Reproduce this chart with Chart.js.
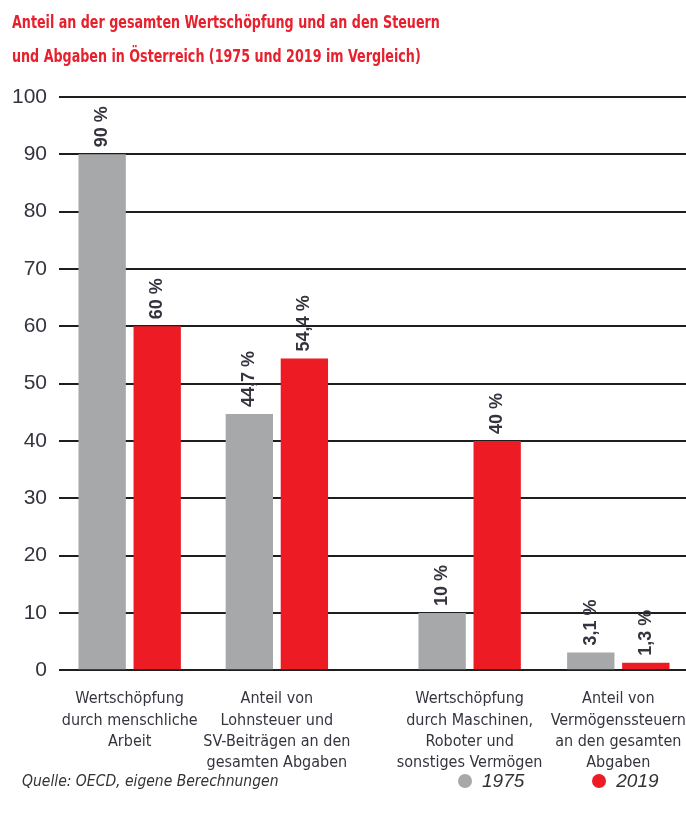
<!DOCTYPE html>
<html>
<head>
<meta charset="utf-8">
<script src="https://cdn.jsdelivr.net/npm/chart.js@4.4.1/dist/chart.umd.min.js"></script>
<style>
  html, body { margin: 0; padding: 0; background: #fff; overflow: hidden; }
  #wrap { position: relative; width: 686px; height: 820px; }
  #title {
    position: absolute; left: 12px; top: 5px; white-space: nowrap;
    font: bold 18px/34px "DejaVu Sans Condensed", sans-serif;
    color: #e8202e;
    transform: scaleX(0.785); transform-origin: left top;
  }
  #source {
    position: absolute; left: 22px; top: 772px;
    font: italic 15.5px "DejaVu Sans Condensed", sans-serif;
    color: #333;
  }
  #legend {
    position: absolute; left: 458px; top: 770px;
    display: flex; gap: 68px;
    font: italic 19px "Liberation Sans", sans-serif; color: #333;
  }
  #legend span { display: inline-flex; align-items: center; }
  #legend i { display: inline-block; width: 14px; height: 14px; border-radius: 50%; margin-right: 10px; }
</style>
</head>
<body>
<div id="wrap">
  <div id="title"></div>
  <canvas id="chart" width="686" height="820"></canvas>
  <div id="source">Quelle: OECD, eigene Berechnungen</div>
  <div id="legend"></div>
</div>
<script>
const titleLines = [
  'Anteil an der gesamten Wertschöpfung und an den Steuern',
  'und Abgaben in Österreich (1975 und 2019 im Vergleich)'
];
const categories = [
  ['Wertschöpfung', 'durch menschliche', 'Arbeit'],
  ['Anteil von', 'Lohnsteuer und', 'SV-Beiträgen an den', 'gesamten Abgaben'],
  ['Wertschöpfung', 'durch Maschinen,', 'Roboter und', 'sonstiges Vermögen'],
  ['Anteil von', 'Vermögenssteuern', 'an den gesamten', 'Abgaben']
];
// groups 2 and 3 sit further apart in the original
const groupPos = [0, 1, 2.31, 3.32];
const seriesNames = ['1975', '2019'];
const values1975 = [90, 44.7, 10, 3.1];
const values2019 = [60, 54.4, 40, 1.3];
const seriesColors = ['#a7a8aa', '#ed1c24'];

const narrow = '"DejaVu Sans Condensed", sans-serif';
const textColor = '#34343f';

document.getElementById('title').innerHTML = titleLines.join('<br>');

const barLabels = {
  id: 'barLabels',
  afterDatasetsDraw(chart) {
    const ctx = chart.ctx;
    ctx.save();
    ctx.font = '600 18px "Liberation Sans", sans-serif';
    ctx.fillStyle = textColor;
    ctx.textAlign = 'left';
    ctx.textBaseline = 'middle';
    chart.data.datasets.forEach((ds, di) => {
      chart.getDatasetMeta(di).data.forEach((bar, i) => {
        const txt = String(ds.data[i].y).replace('.', ',') + ' %';
        ctx.save();
        ctx.translate(bar.x, bar.y - 7);
        ctx.rotate(-Math.PI / 2);
        ctx.fillText(txt, 0, 0);
        ctx.restore();
      });
    });
    ctx.restore();
  }
};

const chart = new Chart(document.getElementById('chart'), {
  type: 'bar',
  data: {
    datasets: [
      {
        label: seriesNames[0],
        data: groupPos.map((x, i) => ({ x, y: values1975[i] })),
        backgroundColor: seriesColors[0]
      },
      {
        label: seriesNames[1],
        data: groupPos.map((x, i) => ({ x, y: values2019[i] })),
        backgroundColor: seriesColors[1]
      }
    ]
  },
  options: {
    responsive: false,
    animation: false,
    categoryPercentage: 0.748,
    barPercentage: 0.86,
    layout: { padding: { left: 0, right: 0, top: 97, bottom: 36 } },
    plugins: {
      legend: { display: false },
      tooltip: { enabled: false },
      title: { display: false }
    },
    scales: {
      x: {
        type: 'linear',
        offset: false,
        min: -0.48,
        max: 3.78,
        afterBuildTicks: scale => { scale.ticks = groupPos.map(v => ({ value: v })); },
        // let the long last label run to the edge like the original
        afterFit: scale => { scale.paddingLeft = 0; scale.paddingRight = 0; },
        ticks: {
          callback: (v, i) => categories[i],
          autoSkip: false,
          maxRotation: 0,
          padding: 10,
          color: textColor,
          font: { family: narrow, size: 16, lineHeight: 1.34 }
        },
        grid: { display: false, offset: false },
        border: { display: false }
      },
      y: {
        min: 0,
        max: 100,
        ticks: {
          stepSize: 10,
          padding: 12,
          color: textColor,
          font: { family: '"Liberation Sans", sans-serif', size: 21 }
        },
        grid: { color: '#1e1e1e', lineWidth: 2, drawTicks: false },
        border: { display: false }
      }
    }
  },
  plugins: [barLabels]
});

const legendDiv = document.getElementById('legend');
seriesNames.forEach((name, i) => {
  legendDiv.innerHTML += `<span><i style="background:${seriesColors[i]}"></i>${name}</span>`;
});
</script>
</body>
</html>
